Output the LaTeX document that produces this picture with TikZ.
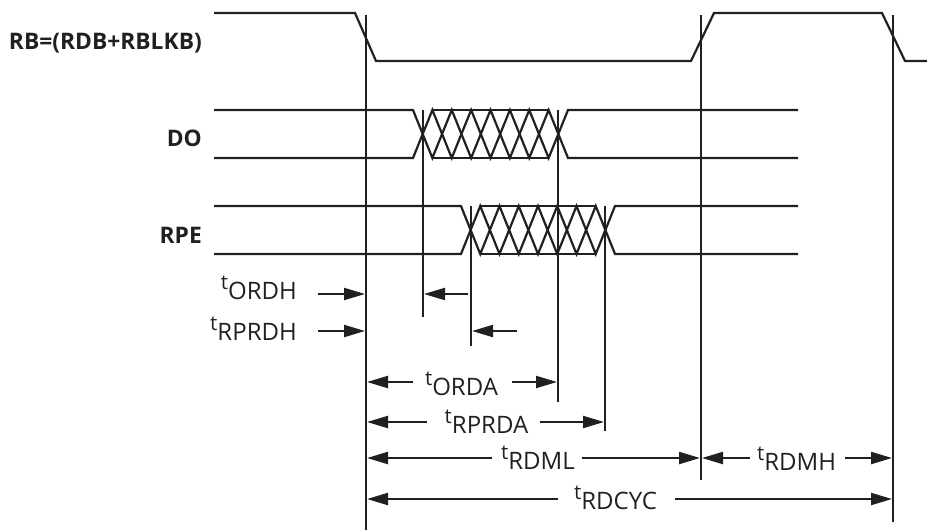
\documentclass[tikz,border=0pt]{standalone}
\usepackage{fontspec}
\setmainfont{Open Sans}
\usetikzlibrary{arrows.meta}
\definecolor{ink}{HTML}{231F20}
\tikzset{
  sig/.style={line width=2.2pt, draw=ink, line join=miter},
  vline/.style={line width=2.2pt, draw=ink},
  arr/.style={line width=2.2pt, draw=ink, -{Triangle[length=21pt,width=12pt]}, shorten >=1pt},
  tlabel/.style={inner sep=0pt, font=\fontsize{24}{26}\selectfont, text=ink, anchor=base},
  siglabel/.style={inner sep=0pt, font=\fontsize{22.8}{24}\selectfont\bfseries, text=ink, anchor=base east},
}
\newcommand\tsub[1]{\raisebox{10pt}{\fontsize{20.5}{22}\selectfont t}#1}
% #1 x-start of cells, #2 step, #3 y top, #4 y bottom, #5 x left end, #6 x right end
\newcommand\mybus[6]{%
  \draw[sig] (#5,#3) -- (#1,#3) \foreach \i in {1,...,8}{ -- ({#1+\i*#2},{#3+(#4-#3)*mod(\i,2)}) } -- (#6,#3);
  \draw[sig] (#5,#4) -- (#1,#4) \foreach \i in {1,...,8}{ -- ({#1+\i*#2},{#4-(#4-#3)*mod(\i,2)}) } -- (#6,#4);
  \draw[sig] ({#1+#2},#3) -- ({#1+7*#2},#3);
  \draw[sig] ({#1+#2},#4) -- ({#1+7*#2},#4);
}
\begin{document}
\begin{tikzpicture}[x=1pt,y=-1pt]
\useasboundingbox (0,0) rectangle (927,531);

% signal labels
\node[siglabel] (lrb) at (202,49) {RB=(RDB+RBLKB)};
\node[siglabel] (ldo) at (202,146) {DO};
\node[siglabel] (lrpe) at (202,243) {RPE};

% RB waveform
\draw[sig] (214,13) -- (355,13) -- (376,61) -- (691,61) -- (714,13) -- (882,13) -- (905,61) -- (927,61);

% DO and RPE buses
\mybus{413}{19.375}{110}{158}{214}{798}
\mybus{461}{19.25}{206}{254}{214}{798}

% vertical reference lines
\coordinate (v1t) at (366,15);  \coordinate (v1b) at (366,530);
\coordinate (v2t) at (701,15);  \coordinate (v2b) at (701,480);
\coordinate (v3t) at (893,15);  \coordinate (v3b) at (893,522);
\coordinate (v4t) at (423,110); \coordinate (v4b) at (423,317);
\coordinate (v5t) at (558,110); \coordinate (v5b) at (558,402);
\coordinate (v6t) at (471,206); \coordinate (v6b) at (471,346);
\coordinate (v7t) at (605,206); \coordinate (v7b) at (605,431);
\foreach \v in {1,...,7}{ \draw[vline] (v\v t) -- (v\v b); }

% rows
\coordinate (r1) at (0,294);
\coordinate (r2) at (0,331);
\coordinate (r3) at (0,382);
\coordinate (r4) at (0,422);
\coordinate (r5) at (0,458);
\coordinate (r6) at (0,499);

% free arrow ends
\coordinate (a1) at (318,294);
\coordinate (a2) at (468,294);
\coordinate (a3) at (318,331);
\coordinate (a4) at (517,331);
\coordinate (a5) at (413,382);
\coordinate (a6) at (512,382);
\coordinate (a7) at (427,422);
\coordinate (a8) at (540,422);
\coordinate (a9) at (492,458);
\coordinate (a10) at (582,458);
\coordinate (a11) at (750,458);
\coordinate (a12) at (845,458);
\coordinate (a13) at (558,499);
\coordinate (a14) at (675,499);

% timing labels
\node[tlabel, anchor=base east] (tordh) at (297,299) {\tsub{ORDH}};
\node[tlabel, anchor=base east] (trprdh) at (297,340) {\tsub{RPRDH}};
\node[tlabel] (torda) at (461.5,395) {\tsub{ORDA}};
\node[tlabel] (trprda) at (486.5,433) {\tsub{RPRDA}};
\node[tlabel] (trdml) at (538,469) {\tsub{RDML}};
\node[tlabel] (trdmh) at (796.5,470) {\tsub{RDMH}};
\node[tlabel] (trdcyc) at (615.5,509) {\tsub{RDCYC}};

% arrows
\draw[arr] (a1) -- (v1t |- r1);
\draw[arr] (a2) -- (v4t |- r1);
\draw[arr] (a3) -- (v1t |- r2);
\draw[arr] (a4) -- (v6t |- r2);
\draw[arr] (a5) -- (v1t |- r3);
\draw[arr] (a6) -- (v5t |- r3);
\draw[arr] (a7) -- (v1t |- r4);
\draw[arr] (a8) -- (v7t |- r4);
\draw[arr] (a9) -- (v1t |- r5);
\draw[arr] (a10) -- (v2t |- r5);
\draw[arr] (a11) -- (v2t |- r5);
\draw[arr] (a12) -- (v3t |- r5);
\draw[arr] (a13) -- (v1t |- r6);
\draw[arr] (a14) -- (v3t |- r6);
\end{tikzpicture}
\end{document}
